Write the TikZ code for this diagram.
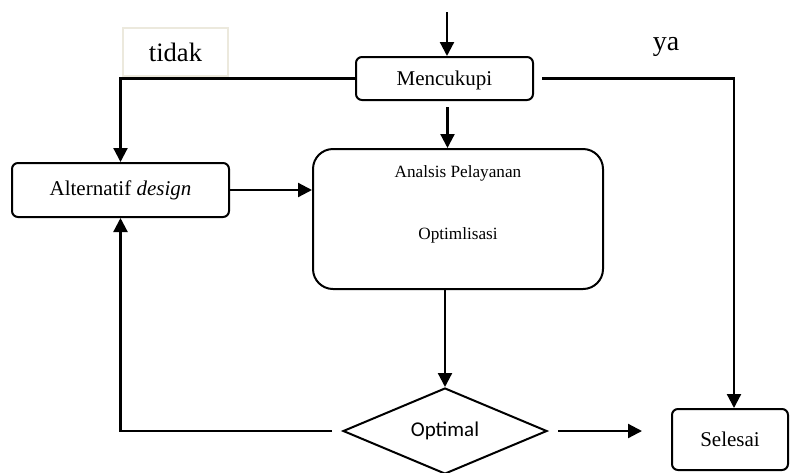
\documentclass[tikz,border=0pt]{standalone}
\usepackage{fontspec}
\setmainfont{Liberation Serif}
\newfontfamily\optfont{Carlito}
\usetikzlibrary{arrows.meta,shapes.geometric}
\definecolor{boxline}{HTML}{ECE9DD}
\tikzset{
  box/.style={draw, line width=1pt, rounded corners=3pt, inner sep=0pt,
    font=\fontsize{10.5}{12}\selectfont},
  arr/.style={line width=1.1pt, -{Triangle[length=7pt,width=7pt]}},
}
\begin{document}
\begin{tikzpicture}[x=5pt, y=-5pt]
\useasboundingbox (0,0) rectangle (79.2,47.2);
% boxes
\node[box, minimum width=88.5pt, minimum height=21.5pt, text depth=-1.5pt] (mencukupi) at (44.45,7.85) {Mencukupi};
\node[box, minimum width=108.5pt, minimum height=27pt] (alternatif) at (12.05,19.0) {Alternatif \textit{design}};
\node[box, rounded corners=10pt, minimum width=145pt, minimum height=70pt] (analisis) at (45.8,21.9) {};
\node[font=\fontsize{8.6}{10}\selectfont] (pelayanan) at (45.8,17.3) {Analsis Pelayanan};
\node[font=\fontsize{8.6}{10}\selectfont] (optimlisasi) at (45.8,23.5) {Optimlisasi};
\node[draw, diamond, line width=1pt, inner sep=0pt, aspect=2.4, minimum width=102pt, minimum height=43pt,
  font=\optfont\fontsize{10.5}{12}\selectfont] (optimal) at (44.5,43.1) {Optimal};
\node[box, minimum width=58pt, minimum height=30.5pt] (selesai) at (73.0,43.95) {Selesai};
% labels
\node[draw=boxline, line width=0.6pt, minimum width=52.5pt, minimum height=24pt,
  font=\fontsize{13.3}{15}\selectfont] (tidak) at (17.55,5.2) {tidak};
\node[font=\fontsize{14}{16}\selectfont] (ya) at (66.6,4.7) {ya};
% connectors
\coordinate (start) at (44.7,1.2);
\draw[arr] (start) -- (start |- mencukupi.north);
\draw[arr] (mencukupi.west) -| (alternatif.north);
\draw[arr, shorten <=4pt] (mencukupi.east) -| ([xshift=2pt]selesai.north);
\draw[arr, shorten <=3pt] ([xshift=1.5pt]mencukupi.south) -- ([xshift=1.5pt]mencukupi.south |- analisis.north);
\draw[arr] (alternatif.east) -- (analisis.west |- alternatif.east);
\draw[arr] (optimal.north |- analisis.south) -- (optimal.north);
\draw[arr, shorten <=5pt] (optimal.west) -| (alternatif.south);
\draw[arr, shorten <=5pt, shorten >=14.5pt] (optimal.east) -- (selesai.west |- optimal.east);
\end{tikzpicture}
\end{document}
